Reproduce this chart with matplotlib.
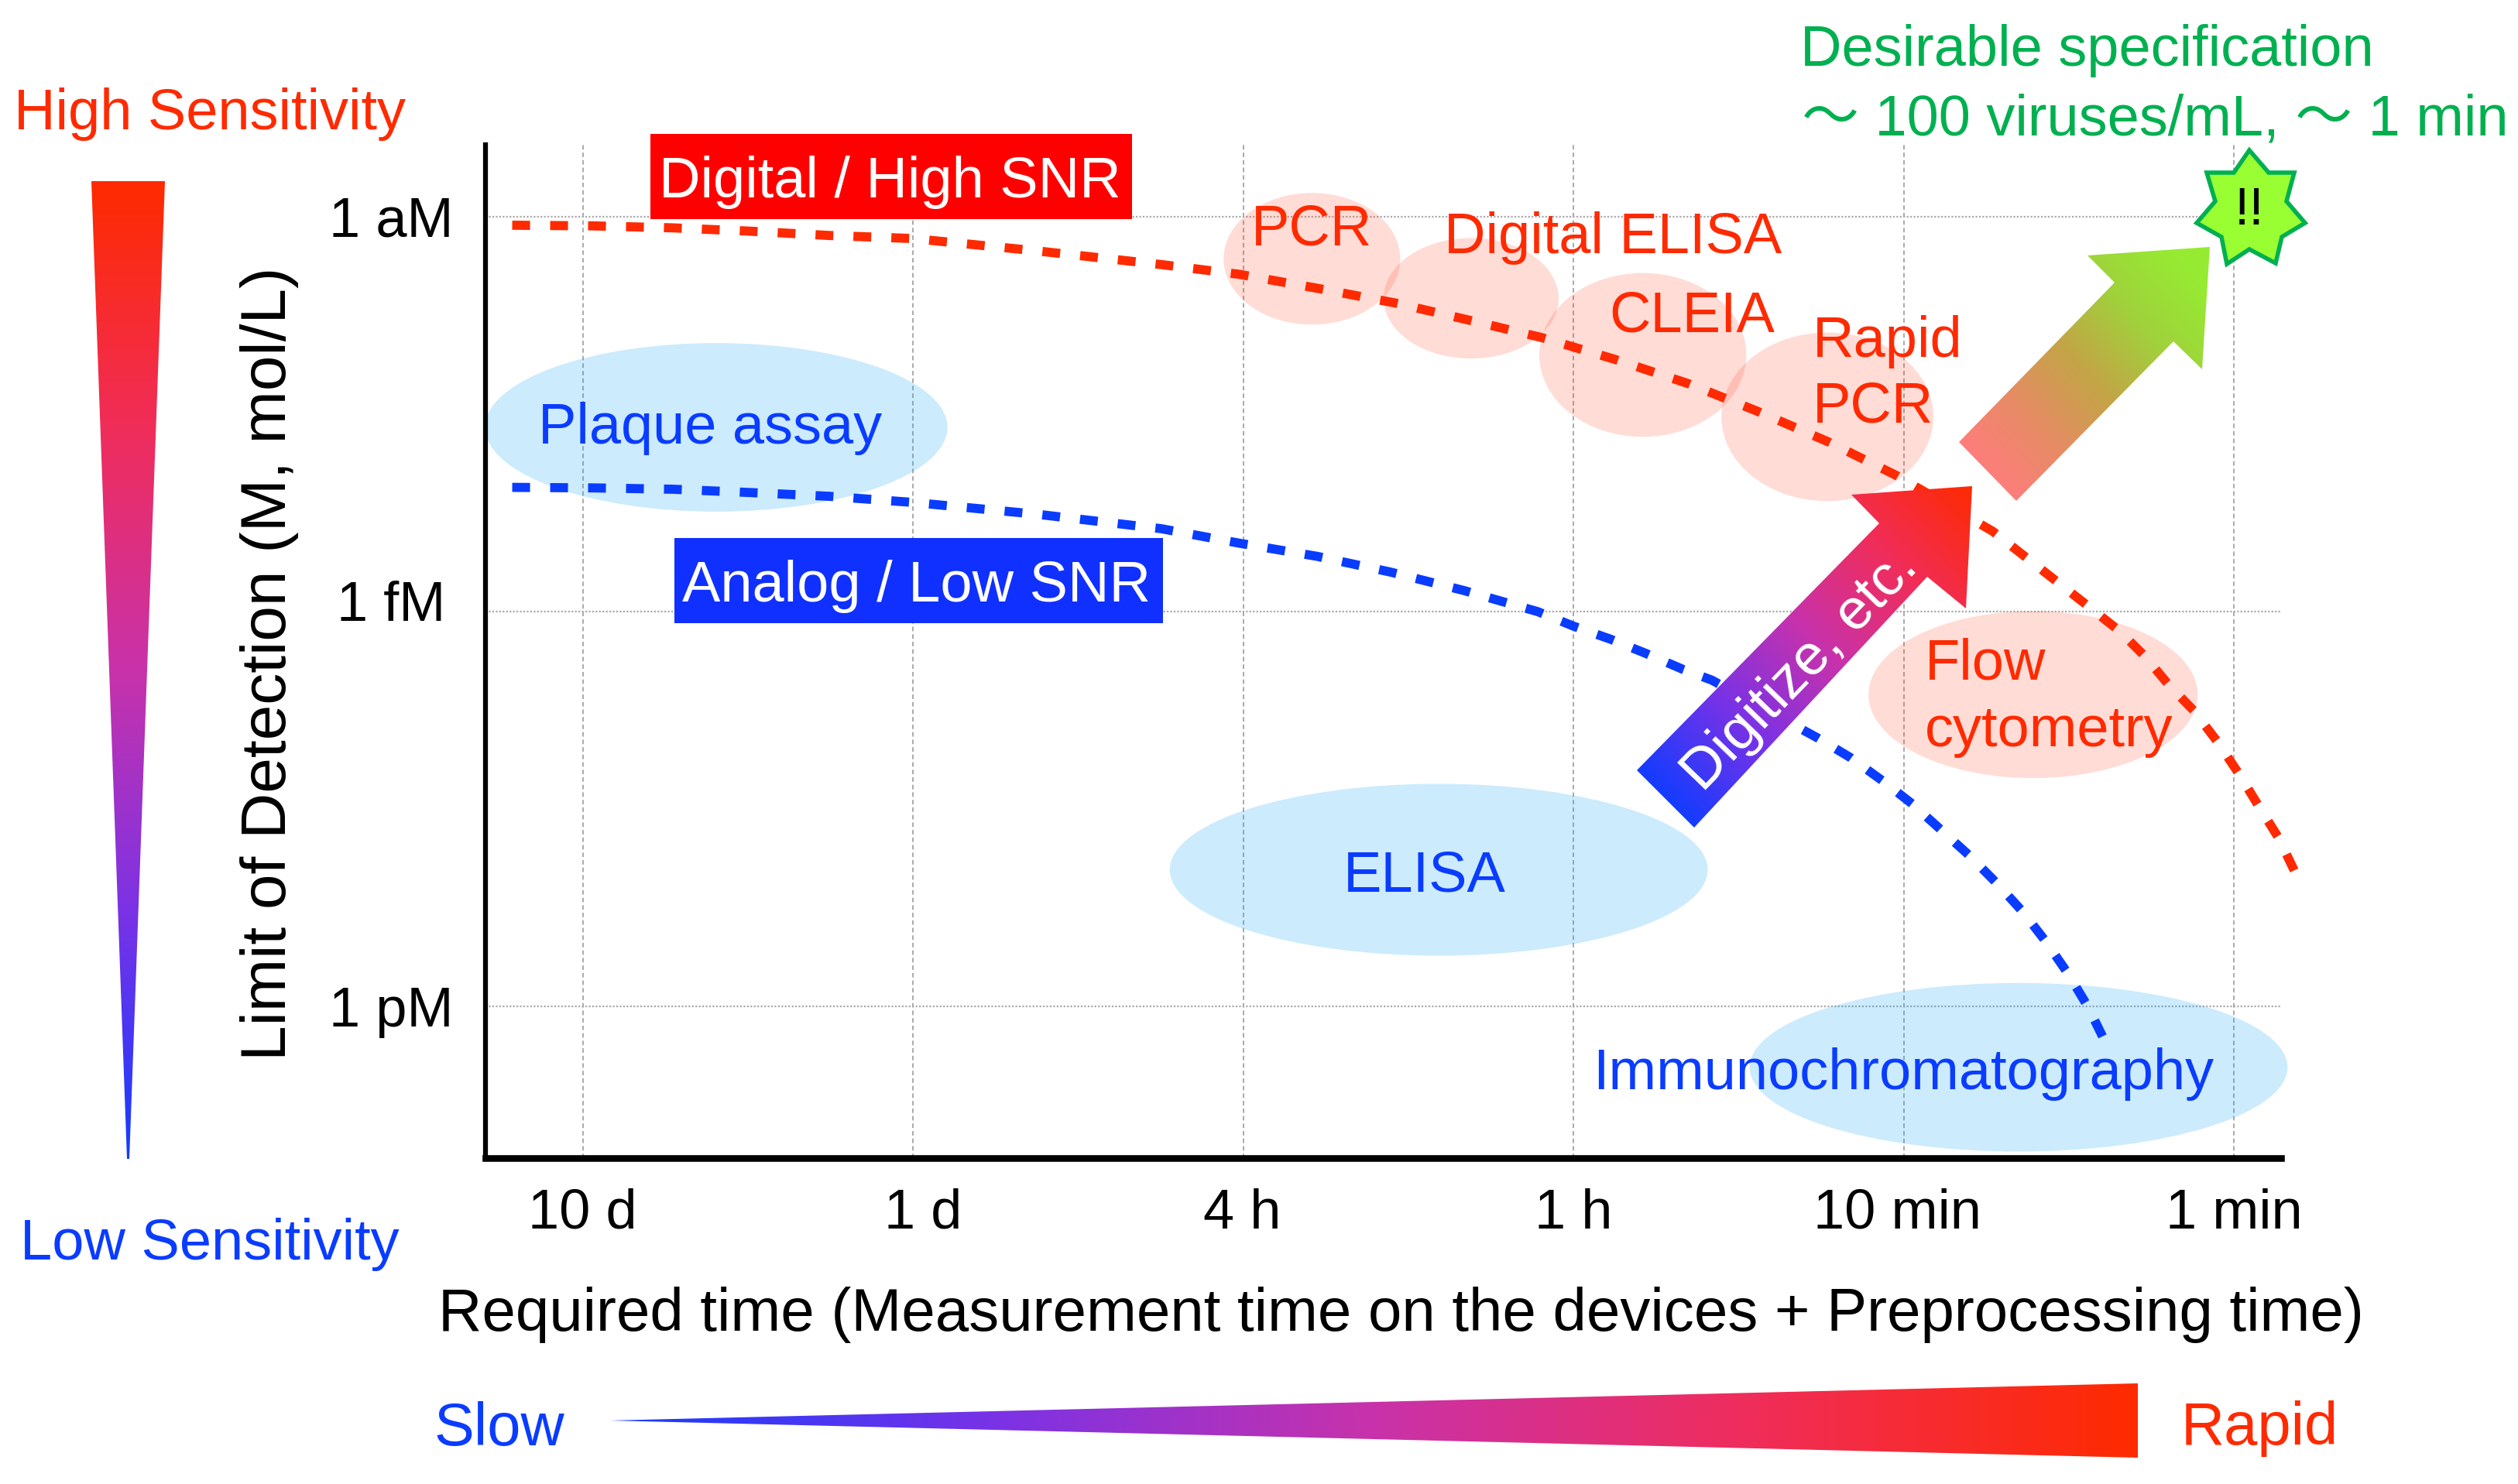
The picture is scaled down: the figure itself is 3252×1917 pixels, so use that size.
import numpy as np
import matplotlib
matplotlib.use("Agg")
import matplotlib.pyplot as plt
from matplotlib.colors import LinearSegmentedColormap
from matplotlib.patches import Ellipse, Polygon, Rectangle
from matplotlib.transforms import ScaledTranslation

plt.rcParams["font.family"] = ["Liberation Sans", "Noto Sans CJK JP", "DejaVu Sans"]

RED = "#FF2A00"
BLUE = "#0A3CFF"
GREEN = "#00B050"
TEXT_SIZE = 53.3

# x = tick position (10 d ... 1 min), y = log10 of the detection limit in M
time_labels = ["10 d", "1 d", "4 h", "1 h", "10 min", "1 min"]
time_ticks = [0, 1, 2, 3, 4, 5]
lod_labels = ["1 aM", "1 fM", "1 pM"]
lod_ticks = [-18, -15, -12]

digital_x = [-0.214, 0.029, 0.271, 0.504, 0.747, 0.998, 1.375, 1.752, 1.988, 2.224, 2.459, 2.682, 2.905,
             3.127, 3.350, 3.560, 3.775, 3.979, 4.270, 4.570, 4.655, 4.731, 4.804, 4.878, 4.951, 5.015,
             5.076, 5.136, 5.199]
digital_y = [-17.935, -17.93, -17.915, -17.89, -17.857, -17.834, -17.74, -17.636, -17.562, -17.456, -17.345,
             -17.215, -17.081, -16.915, -16.73, -16.519, -16.286, -16.033, -15.61, -15.02, -14.85, -14.66,
             -14.44, -14.25, -14.01, -13.77, -13.52, -13.28, -12.95]
analog_x = [-0.214, 0.029, 0.271, 0.504, 0.747, 0.998, 1.375, 1.752, 1.988, 2.224, 2.447, 2.669, 2.892, 3.0,
            3.113, 3.222, 3.333, 3.419, 3.740, 3.840, 3.939, 4.026, 4.110, 4.198, 4.281, 4.361, 4.432, 4.498,
            4.558, 4.611]
analog_y = [-15.944, -15.94, -15.93, -15.905, -15.876, -15.83, -15.74, -15.63, -15.52, -15.42, -15.30, -15.16,
            -15.0, -14.89, -14.79, -14.68, -14.56, -14.48, -14.04, -13.89, -13.71, -13.54, -13.35, -13.15,
            -12.94, -12.72, -12.49, -12.25, -12.0, -11.73]

# assay regions: centre x, centre y, width, height
digital_regions = [
    (2.208, -17.68, 0.535, 1.00),
    (2.690, -17.38, 0.530, 0.915),
    (3.210, -16.95, 0.627, 1.244),
    (3.769, -16.48, 0.642, 1.28),
    (4.392, -14.37, 0.997, 1.268),
]
analog_regions = [
    (0.404, -16.40, 1.40, 1.28),
    (2.592, -13.04, 1.629, 1.305),
    (4.348, -11.54, 1.629, 1.28),
]

# assay names: text, x, y, ha
digital_names = [
    ("PCR", 2.208, -17.90, "center"),
    ("Digital ELISA", 3.12, -17.84, "center"),
    ("CLEIA", 3.36, -17.24, "center"),
    ("Rapid", 3.725, -17.05, "left"),
    ("PCR", 3.725, -16.55, "left"),
    ("Flow", 4.065, -14.60, "left"),
    ("cytometry", 4.065, -14.09, "left"),
]
analog_names = [
    ("Plaque assay", 0.385, -16.39, "center"),
    ("ELISA", 2.55, -12.99, "center"),
    ("Immunochromatography", 3.998, -11.49, "center"),
]

fig = plt.figure(figsize=(32.52, 19.17), dpi=100, facecolor="white")
W, H = 3252, 1917

ax = fig.add_axes([627 / W, 1 - 1496 / H, (2946 - 627) / W, (1496 - 187) / H])
ax.set_xlim(-0.295, 5.143)
ax.set_ylim(-10.85, -18.546)
ax.set_xticks(time_ticks)
ax.set_xticklabels(time_labels, fontsize=52)
ax.set_yticks(lod_ticks)
ax.set_yticklabels(lod_labels, fontsize=52, ha="center")
ax.tick_params(axis="x", length=0, pad=28)
ax.tick_params(axis="y", length=0, pad=88)

# a few tick labels sit slightly off their gridline in the original
for lab, dx in zip(ax.get_xticklabels(), [0, 9, -1, 0, -6, 0]):
    lab.set_transform(lab.get_transform() + ScaledTranslation(dx / 72, 0, fig.dpi_scale_trans))
for lab, dy in zip(ax.get_yticklabels(), [0, 10.5, 0]):
    lab.set_transform(lab.get_transform() + ScaledTranslation(0, dy / 72, fig.dpi_scale_trans))

ax.grid(axis="x", color="#AAAAAA", lw=1.4, ls=(0, (3, 2)), zorder=1)
ax.grid(axis="y", color="#AAAAAA", lw=1.6, ls=(0, (1, 1)), zorder=1)
ax.set_axisbelow(True)
ax.spines["top"].set_visible(False)
ax.spines["right"].set_visible(False)
ax.spines["left"].set_linewidth(4.5)
ax.spines["bottom"].set_linewidth(6.2)
ax.set_xlabel("Required time (Measurement time on the devices + Preprocessing time)", fontsize=56.2)
ax.set_ylabel("Limit of Detection (M, mol/L)", fontsize=59)
ax.xaxis.set_label_coords(0.51, -0.127, transform=ax.transAxes)
ax.yaxis.set_label_coords(-0.104, 0.488, transform=ax.transAxes)

for cx, cy, w, h in digital_regions:
    ax.add_patch(Ellipse((cx, cy), w, h, fc=(1, 0.19, 0.06, 0.17), ec="none", zorder=2, clip_on=False))
for cx, cy, w, h in analog_regions:
    ax.add_patch(Ellipse((cx, cy), w, h, fc=(0, 0.61, 0.96, 0.20), ec="none", zorder=2, clip_on=False))

dash = (0, (1.95, 2.2))
ax.plot(digital_x, digital_y, color=RED, lw=8.5, ls=dash, dash_capstyle="butt", dash_joinstyle="bevel",
        clip_on=False, zorder=3)
ax.plot(analog_x, analog_y, color=BLUE, lw=8.5, ls=dash, dash_capstyle="butt", dash_joinstyle="bevel",
        clip_on=False, zorder=3)

# everything decorative lives on a full figure overlay in pixel units
top = fig.add_axes([0, 0, 1, 1], facecolor="none")
top.set_axis_off()

heat = LinearSegmentedColormap.from_list("heat", ["#143CFF", "#7A32E6", "#C832AA", "#F02D5A", "#FF2A00"])
lime = LinearSegmentedColormap.from_list("lime", ["#FF7D7D", "#E68C64", "#C3A546", "#A0D23C", "#96EB32"])


def gradient_shape(points, start, end, cmap):
    pts = np.array(points, dtype=float)
    x0, x1 = pts[:, 0].min(), pts[:, 0].max()
    y0, y1 = pts[:, 1].min(), pts[:, 1].max()
    xx, yy = np.meshgrid(np.linspace(x0, x1, 400), np.linspace(y0, y1, 400))
    dx, dy = end[0] - start[0], end[1] - start[1]
    t = ((xx - start[0]) * dx + (yy - start[1]) * dy) / (dx * dx + dy * dy)
    im = top.imshow(np.clip(t, 0, 1), cmap=cmap, vmin=0, vmax=1, extent=(x0, x1, y1, y0),
                    aspect="auto", zorder=2, interpolation="bilinear")
    clip = Polygon(pts, closed=True, transform=top.transData, fc="none", ec="none")
    top.add_patch(clip)
    im.set_clip_path(clip)


sens_wedge = [(118, 234), (213, 234), (167, 1497), (164, 1497)]
speed_wedge = [(788, 1835), (2761, 1787), (2761, 1883)]
digitize_arrow = [(2114, 995), (2427, 676), (2391, 639), (2547, 628), (2539, 786), (2489, 745), (2188, 1069)]
spec_arrow = [(2530, 571), (2731, 365), (2696, 330), (2854, 319), (2844, 477), (2807, 441), (2604, 647)]
star = [(2905, 194), (2930, 223), (2963, 223), (2953, 260), (2977, 288), (2947, 306), (2939, 340),
        (2905, 322), (2876, 341), (2869, 306), (2837, 288), (2861, 260), (2850, 223), (2885, 223)]

gradient_shape(sens_wedge, (165, 1497), (165, 234), heat)
gradient_shape(speed_wedge, (788, 1835), (2761, 1835), heat)
gradient_shape(digitize_arrow, (2150, 1030), (2560, 640), heat)
gradient_shape(spec_arrow, (2560, 610), (2840, 360), lime)
top.add_patch(Polygon(star, closed=True, fc="#99FF33", ec=GREEN, lw=4, joinstyle="miter", zorder=3))
top.text(2905, 272, "!!", fontsize=50, ha="center", va="center", color="black", zorder=4)

top.add_patch(Rectangle((840, 173), 622, 110, fc="#FF0000", ec="none", zorder=1))
top.add_patch(Rectangle((871, 695), 631, 110, fc="#0F30FF", ec="none", zorder=1))
top.text(1149, 235, "Digital / High SNR", fontsize=TEXT_SIZE, color="white", ha="center", va="center", zorder=4)
top.text(1184, 757, "Analog / Low SNR", fontsize=TEXT_SIZE, color="white", ha="center", va="center", zorder=4)
top.text(2325, 866, "Digitize, etc.", fontsize=TEXT_SIZE, color="white", ha="center", va="center",
         rotation=46, rotation_mode="anchor", zorder=4)

top.text(271, 147, "High Sensitivity", fontsize=TEXT_SIZE, color=RED, ha="center", va="center")
top.text(271, 1607, "Low Sensitivity", fontsize=TEXT_SIZE, color=BLUE, ha="center", va="center")
top.text(645, 1846, "Slow", fontsize=56, color=BLUE, ha="center", va="center")
top.text(2918, 1846, "Rapid", fontsize=56, color=RED, ha="center", va="center")
top.text(2325, 66, "Desirable specification", fontsize=TEXT_SIZE, color=GREEN, ha="left", va="center")
top.text(2327, 155, "～ 100 viruses/mL, ～ 1 min", fontsize=TEXT_SIZE, color=GREEN, ha="left", va="center")

top.set_xlim(0, W)
top.set_ylim(H, 0)

# assay names follow the data axes; the arrows never reach them
for name, x, y, ha in digital_names:
    ax.text(x, y, name, fontsize=TEXT_SIZE, color=RED, ha=ha, va="center", zorder=5)
for name, x, y, ha in analog_names:
    ax.text(x, y, name, fontsize=TEXT_SIZE, color=BLUE, ha=ha, va="center", zorder=5)

fig.savefig("out.png", dpi=100)
